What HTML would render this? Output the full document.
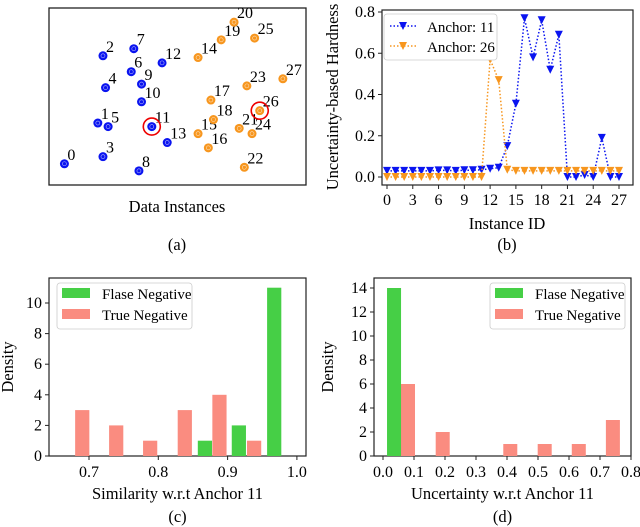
<!DOCTYPE html>
<html><head><meta charset="utf-8"><style>
html,body{margin:0;padding:0;background:#fff}
svg{display:block;font-family:"Liberation Serif",serif}
</style></head><body>
<svg id="fig" width="640" height="527" viewBox="0 0 640 527"></svg>
<script>
// ---------- data ----------
const ptIds = [0,1,2,3,4,5,6,7,8,9,10,11,12,13,14,15,16,17,18,19,20,21,22,23,24,25,26,27];
const ptX = [0.06,0.19,0.21,0.21,0.22,0.23,0.32,0.33,0.35,0.36,0.36,0.40,0.44,0.46,0.58,0.58,0.62,0.63,0.64,0.67,0.72,0.74,0.76,0.77,0.79,0.80,0.82,0.91];
const ptY = [0.12,0.35,0.73,0.16,0.55,0.33,0.64,0.77,0.08,0.57,0.47,0.33,0.69,0.24,0.72,0.29,0.21,0.48,0.37,0.82,0.92,0.32,0.10,0.56,0.29,0.83,0.42,0.60];
const ptGroup = ["b","b","b","b","b","b","b","b","b","b","b","b","b","b","o","o","o","o","o","o","o","o","o","o","o","o","o","o"];
const anchors = [11,26];

const instIds = [0,1,2,3,4,5,6,7,8,9,10,11,12,13,14,15,16,17,18,19,20,21,22,23,24,25,26,27];
const hard11 = [0.03,0.03,0.03,0.03,0.03,0.03,0.032,0.032,0.03,0.033,0.033,0.035,0.04,0.045,0.15,0.355,0.77,0.58,0.76,0.52,0.69,0,0,0.01,0,0.19,0,0];
const hard26 = [0,0,0,0,0,0,0,0,0,0,0,0,0.57,0.47,0.035,0.03,0.03,0.03,0.03,0.03,0.03,0.03,0.03,0.03,0.03,0.03,0.03,0.03];
const bTicksX = [0,3,6,9,12,15,18,21,24,27];
const bTicksY = [0,0.2,0.4,0.6,0.8];

const cBinW = 0.0205;
const cTrueStart = [0.680,0.729,0.778,0.828,0.878,0.928];
const cTrueVal = [3,2,1,3,4,1];
const cFalseStart = [0.857,0.906,0.957];
const cFalseVal = [1,2,11];
const cTicksX = [0.7,0.8,0.9,1.0];
const cTicksY = [0,2,4,6,8,10];

const dBinW = 0.0452;
const dTrueStart = [0.058,0.170,0.388,0.499,0.609,0.719];
const dTrueVal = [6,2,1,1,1,3];
const dFalseStart = [0.013];
const dFalseVal = [14];
const dTicksX = [0,0.1,0.2,0.3,0.4,0.5,0.6,0.7,0.8];
const dTicksY = [0,2,4,6,8,10,12,14];

// ---------- helpers ----------
const NS="http://www.w3.org/2000/svg", svg=document.getElementById('fig');
function el(tag,attrs,parent){const e=document.createElementNS(NS,tag);for(const k in attrs)e.setAttribute(k,attrs[k]);(parent||svg).appendChild(e);return e;}
function txt(x,y,s,size,anchor,parent,extra){const t=el('text',Object.assign({x:x,y:y,'font-size':size,'text-anchor':anchor||'middle',fill:'#000'},extra||{}),parent);t.textContent=s;return t;}
const BLUE='#0a14f0', ORANGE='#f7961e', GREEN='#46cf46', PINK='#fa8c80';
const TK=16, LB=16.5;

// ---------- panel a ----------
const ga=el('g',{});


const aL=49,aR=306,aT=8,aB=185;
const ax=v=>aL+v*(aR-aL), ay=v=>aB-v*(aB-aT);
el('rect',{x:aL,y:aT,width:aR-aL,height:aB-aT,fill:'none',stroke:'#222','stroke-width':1.3},ga);
ptIds.forEach((id,i)=>{
  const c=ptGroup[i]==='b'?BLUE:ORANGE, x=ax(ptX[i]), y=ay(ptY[i]);
  const p=el('circle',{cx:x,cy:y,r:4.5,fill:c},ga);
  
  
  el('circle',{cx:x,cy:y,r:2,fill:'none',stroke:'#fff','stroke-width':0.6,opacity:0.7},ga);
  const t=txt(x+3,y-4,String(id),16,'start',ga);
  
  
  if(anchors.includes(id)){
    const r=el('circle',{cx:x,cy:y,r:8.5,fill:'none',stroke:'#e00','stroke-width':1.6},ga);
    
    
  }
});
txt(177,212,'Data Instances',LB,'middle',ga);
txt(177,250,'(a)',LB,'middle',ga);

// ---------- panel b ----------
const gb=el('g',{});


const bL=382,bR=633,bT=10,bB=185;
const bx=v=>387+v*(619-387)/27, by=v=>177-v*(177-12)/0.8;
el('rect',{x:bL,y:bT,width:bR-bL,height:bB-bT,fill:'none',stroke:'#222','stroke-width':1.2},gb);
bTicksX.forEach(v=>{el('line',{x1:bx(v),x2:bx(v),y1:bB,y2:bB+4,stroke:'#222'},gb);txt(bx(v),bB+20,String(v),TK,'middle',gb);});
bTicksY.forEach(v=>{el('line',{x1:bL-4,x2:bL,y1:by(v),y2:by(v),stroke:'#222'},gb);txt(bL-7,by(v)+5,v.toFixed(1),TK,'end',gb);});
function series(vals,c,name){
  const pl=el('polyline',{points:vals.map((v,i)=>bx(instIds[i])+','+by(v)).join(' '),fill:'none',stroke:c,'stroke-width':1.5,'stroke-dasharray':'1.5,2'},gb);
  
  
  vals.forEach((v,i)=>{const x=bx(instIds[i]),y=by(v);
    const m=el('polygon',{points:`${x-4},${y-4} ${x+4},${y-4} ${x},${y+4}`,fill:c},gb);
    
    });
}
series(hard11,BLUE,'anchor-11');
series(hard26,ORANGE,'anchor-26');
const lgb=el('g',{},gb);


el('rect',{x:384,y:14,width:113,height:46,rx:3,fill:'#fff',stroke:'#ccc','stroke-width':0.8},lgb);
[[BLUE,'Anchor: 11',27],[ORANGE,'Anchor: 26',47]].forEach(([c,s,y])=>{
  el('line',{x1:390,x2:416,y1:y-1,y2:y-1,stroke:c,'stroke-width':1.5,'stroke-dasharray':'1.5,2'},lgb);
  el('polygon',{points:`399,${y-5} 407,${y-5} 403,${y+3}`,fill:c},lgb);
  txt(427,y+5,s,15,'start',lgb);
});
txt(507,229,'Instance ID',LB,'middle',gb);
txt(507,250,'(b)',LB,'middle',gb);
txt(0,0,'Uncertainty-based Hardness',LB,'middle',gb,{transform:'translate(338,97) rotate(-90)'});

// ---------- histograms ----------
function hist(o){
  const g=el('g',{});
  
  
  const {L,R,T,B}=o;
  const x=v=>o.x0+(v-o.v0)*o.sx, y=v=>B-v*o.sy;
  el('rect',{x:L,y:T,width:R-L,height:B-T,fill:'none',stroke:'#222','stroke-width':1.2},g);
  o.tx.forEach(v=>{el('line',{x1:x(v),x2:x(v),y1:B,y2:B+4,stroke:'#222'},g);txt(x(v),B+21,v.toFixed(1),TK,'middle',g);});
  o.ty.forEach(v=>{el('line',{x1:L-4,x2:L,y1:y(v),y2:y(v),stroke:'#222'},g);txt(L-7,y(v)+5,String(v),TK,'end',g);});
  o.ts.forEach((s,i)=>{const b=el('rect',{x:x(s),y:y(o.tv[i]),width:o.bw*o.sx,height:o.tv[i]*o.sy,fill:PINK},g);
    
    });
  o.fs.forEach((s,i)=>{const b=el('rect',{x:x(s),y:y(o.fv[i]),width:o.bw*o.sx,height:o.fv[i]*o.sy,fill:GREEN},g);
    
    });
  const lg=el('g',{},g);
  
  
  el('rect',{x:o.lx,y:T+5,width:135,height:46,rx:3,fill:'#fff',stroke:'#ccc','stroke-width':0.8},lg);
  el('rect',{x:o.lx+5,y:T+10,width:28,height:10,fill:GREEN},lg);
  el('rect',{x:o.lx+5,y:T+31,width:28,height:10,fill:PINK},lg);
  txt(o.lx+45,T+21,'Flase Negative',15,'start',lg);
  txt(o.lx+45,T+42,'True Negative',15,'start',lg);
  txt((L+R)/2,499,o.xl,LB,'middle',g);
  txt((L+R)/2,522,o.cap,LB,'middle',g);
  txt(0,0,'Density',LB,'middle',g,{transform:`translate(${o.yl},${(T+B)/2}) rotate(-90)`});
}
hist({name:'panel-c-histogram',L:49,R:306,T:278,B:456,x0:89,v0:0.7,sx:693,sy:15.3,bw:cBinW,
  tx:cTicksX,ty:cTicksY,ts:cTrueStart,tv:cTrueVal,fs:cFalseStart,fv:cFalseVal,lx:57,xl:'Similarity w.r.t Anchor 11',cap:'(c)',yl:13});
hist({name:'panel-d-histogram',L:374,R:631,T:278,B:456,x0:383,v0:0,sx:310,sy:12,bw:dBinW,
  tx:dTicksX,ty:dTicksY,ts:dTrueStart,tv:dTrueVal,fs:dFalseStart,fv:dFalseVal,lx:490,xl:'Uncertainty w.r.t Anchor 11',cap:'(d)',yl:333});
</script>
</body></html>
